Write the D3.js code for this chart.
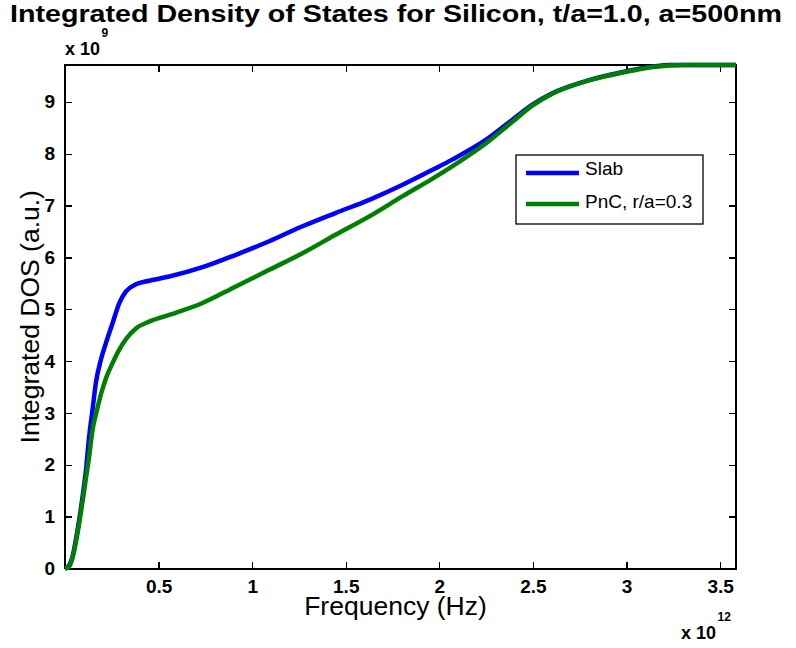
<!DOCTYPE html>
<html>
<head>
<meta charset="utf-8">
<script src="https://cdn.jsdelivr.net/npm/d3@7"></script>
<style>
  body { margin: 0; background: #fff; }
  svg { display: block; font-family: "Liberation Sans", Arial, Helvetica, sans-serif; }
  .axis path, .axis line { stroke: #000; stroke-width: 1.3; shape-rendering: crispEdges; }
  .tick-label { font-size: 19px; font-weight: bold; fill: #000; }
</style>
</head>
<body>
<div id="chart"></div>
<script>
/* Integrated DOS chart */

// frequency in units of 1e12 Hz
const freq = [0, 0.02, 0.04, 0.067, 0.094, 0.112, 0.129, 0.147, 0.165, 0.192, 0.219,
  0.254, 0.29, 0.325, 0.379, 0.45, 0.557, 0.735, 0.913, 1.091, 1.269, 1.448, 1.626,
  1.804, 1.964, 2.071, 2.25, 2.392, 2.499, 2.606, 2.784, 2.962, 3.14, 3.23, 3.3, 3.585];

// integrated DOS in units of 1e9
const slab = [0, 0.05, 0.23, 0.74, 1.39, 1.90, 2.54, 3.06, 3.58, 4.03, 4.35,
  4.73, 5.12, 5.34, 5.48, 5.55, 5.63, 5.81, 6.05, 6.31, 6.60, 6.86, 7.11,
  7.40, 7.69, 7.89, 8.27, 8.66, 8.95, 9.17, 9.40, 9.56, 9.68, 9.71, 9.71, 9.71];

const pnc = [0, 0.03, 0.2, 0.68, 1.30, 1.74, 2.16, 2.67, 2.97, 3.36, 3.67,
  3.96, 4.22, 4.42, 4.63, 4.76, 4.89, 5.12, 5.44, 5.76, 6.08, 6.44, 6.79,
  7.18, 7.52, 7.76, 8.20, 8.62, 8.93, 9.16, 9.40, 9.55, 9.67, 9.70, 9.71, 9.71];

const seriesNames = ["Slab", "PnC, r/a=0.3"];
const seriesColors = ["#0000ff", "#008000"];

const xTicks = [0.5, 1, 1.5, 2, 2.5, 3, 3.5];
const yTicks = [0, 1, 2, 3, 4, 5, 6, 7, 8, 9];

const size = { width: 796, height: 648 };
const margin = { top: 65, right: 60, bottom: 79.5, left: 65 };
const width = size.width - margin.left - margin.right;
const height = size.height - margin.top - margin.bottom;

const xScale = d3.scaleLinear().domain([0, 3.585]).range([0, width]);
const yScale = d3.scaleLinear().domain([0, 9.71]).range([height, 0]);

const svg = d3.select("#chart").append("svg")
  .attr("width", size.width)
  .attr("height", size.height);

svg.append("text")
  .attr("x", 396)
  .attr("y", 22)
  .attr("text-anchor", "middle")
  .attr("textLength", 772)
  .attr("lengthAdjust", "spacingAndGlyphs")
  .style("font-size", "24.5px")
  .style("font-weight", "bold")
  .text("Integrated Density of States for Silicon, t/a=1.0, a=500nm");

const graph = svg.append("g")
  .attr("transform", "translate(" + margin.left + "," + margin.top + ")");

// box with inward ticks on every side
const tickLen = 7;
const fmt = d3.format("~g");
const axes = [
  { ax: d3.axisBottom(xScale).tickValues(xTicks), t: "translate(0," + height + ")", labels: true, pad: 11.5 },
  { ax: d3.axisTop(xScale).tickValues(xTicks), t: "translate(0,0)", labels: false, pad: 3 },
  { ax: d3.axisLeft(yScale).tickValues(yTicks), t: "translate(0,0)", labels: true, pad: 10 },
  { ax: d3.axisRight(yScale).tickValues(yTicks), t: "translate(" + width + ",0)", labels: false, pad: 3 }
];
axes.forEach(a => {
  const g = graph.append("g")
    .attr("class", "axis")
    .attr("transform", a.t)
    .call(a.ax.tickSizeInner(-tickLen).tickSizeOuter(0).tickPadding(a.pad).tickFormat(fmt));
  g.selectAll("text")
    .attr("class", "tick-label")
    .style("display", a.labels ? null : "none");
});
graph.selectAll(".axis").attr("font-family", null).attr("font-size", null);

graph.append("rect")
  .attr("width", width)
  .attr("height", height)
  .attr("fill", "none")
  .attr("stroke", "#000")
  .attr("stroke-width", 1.3)
  .attr("shape-rendering", "crispEdges");

// curves
const line = d3.line()
  .x((d, i) => xScale(freq[i]))
  .y(d => yScale(d))
  .curve(d3.curveMonotoneX);

[slab, pnc].forEach((vals, i) => {
  graph.append("path")
    .datum(vals)
    .attr("fill", "none")
    .attr("stroke", seriesColors[i])
    .attr("stroke-width", 4.5)
    .attr("stroke-linejoin", "round")
    .attr("d", line);
});

// axis labels
graph.append("text")
  .attr("x", width / 2 - 5)
  .attr("y", height + 46)
  .attr("text-anchor", "middle")
  .style("font-size", "26.5px")
  .text("Frequency (Hz)");

graph.append("text")
  .attr("transform", "rotate(-90)")
  .attr("x", -height / 2)
  .attr("y", -26)
  .attr("text-anchor", "middle")
  .style("font-size", "26.5px")
  .text("Integrated DOS (a.u.)");

// exponent annotations
function exponent(x, y, exp) {
  const t = svg.append("text")
    .attr("x", x)
    .attr("y", y)
    .style("font-size", "18px")
    .style("font-weight", "bold");
  t.append("tspan").text("x 10");
  t.append("tspan")
    .attr("dy", -18)
    .attr("dx", 1.5)
    .style("font-size", "12px")
    .text(exp);
}
exponent(65, 55, "9");
exponent(681, 639, "12");

// legend
const legend = svg.append("g").attr("transform", "translate(516,155)");
legend.append("rect")
  .attr("width", 187)
  .attr("height", 69)
  .attr("fill", "#fff")
  .attr("stroke", "#000")
  .attr("stroke-width", 1.3);
seriesNames.forEach((name, i) => {
  const ly = 18 + i * 31;
  legend.append("line")
    .attr("x1", 10).attr("x2", 63)
    .attr("y1", ly).attr("y2", ly)
    .attr("stroke", seriesColors[i])
    .attr("stroke-width", 4.5);
  legend.append("text")
    .attr("x", 69)
    .attr("y", ly + 2 + i * 2)
    .style("font-size", "19px")
    .text(name);
});
</script>
</body>
</html>
